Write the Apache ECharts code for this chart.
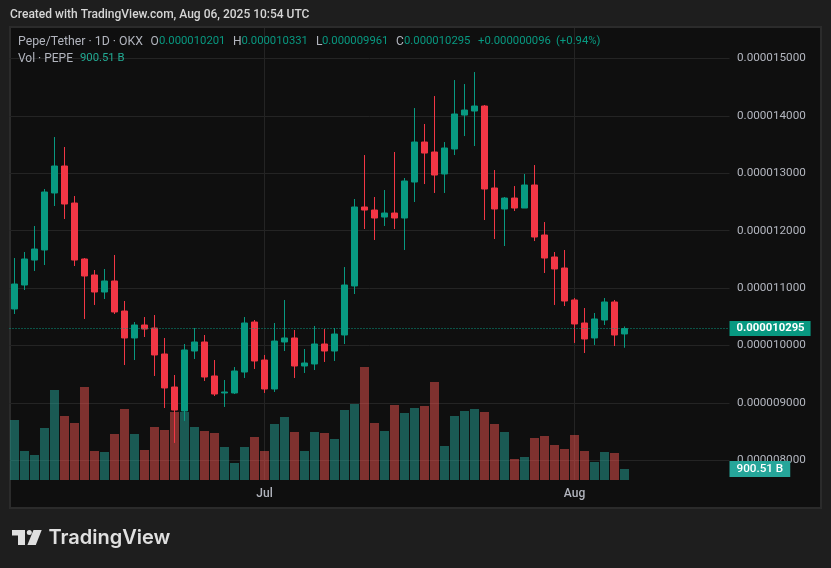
<!DOCTYPE html>
<html><head><meta charset="utf-8">
<style>html,body{margin:0;padding:0;background:#1e1e1e}#c{width:831px;height:568px}</style>
<script src="https://cdn.jsdelivr.net/npm/echarts@6/dist/echarts.min.js"></script></head>
<body><div id="c"></div>
<script>
// prices are in units of 0.000000001 USDT, volumes in billions of PEPE
const dates = ["2025-06-06","2025-06-07","2025-06-08","2025-06-09","2025-06-10","2025-06-11","2025-06-12","2025-06-13","2025-06-14","2025-06-15","2025-06-16","2025-06-17","2025-06-18","2025-06-19","2025-06-20","2025-06-21","2025-06-22","2025-06-23","2025-06-24","2025-06-25","2025-06-26","2025-06-27","2025-06-28","2025-06-29","2025-06-30","2025-07-01","2025-07-02","2025-07-03","2025-07-04","2025-07-05","2025-07-06","2025-07-07","2025-07-08","2025-07-09","2025-07-10","2025-07-11","2025-07-12","2025-07-13","2025-07-14","2025-07-15","2025-07-16","2025-07-17","2025-07-18","2025-07-19","2025-07-20","2025-07-21","2025-07-22","2025-07-23","2025-07-24","2025-07-25","2025-07-26","2025-07-27","2025-07-28","2025-07-29","2025-07-30","2025-07-31","2025-08-01","2025-08-02","2025-08-03","2025-08-04","2025-08-05","2025-08-06"];
const futureDates = ["2025-08-07","2025-08-08","2025-08-09","2025-08-10","2025-08-11","2025-08-12","2025-08-13","2025-08-14","2025-08-15","2025-08-16"];
const opens = [10636,11054,11489,11664,12657,13127,12482,11507,11228,10932,11124,10601,10131,10357,10305,9852,9277,8859,9904,10061,9469,9173,9173,9538,10409,9747,9242,10061,10131,9643,9678,10026,9904,10183,11037,12413,12360,12238,12308,12221,12848,13545,13371,12988,13423,14015,14085,14172,12744,12378,12569,12395,12796,11925,11542,11350,10793,10392,10131,10444,10758,10201];
const closes = [11071,11507,11681,12674,13127,12465,11489,11211,10932,11124,10584,10131,10357,10287,9835,9260,8876,9922,10061,9451,9155,9190,9556,10392,9730,9242,10078,10131,9643,9695,10026,9904,10200,11054,12413,12360,12221,12308,12221,12866,13545,13353,12970,13441,14033,14102,14172,12726,12378,12569,12395,12796,11890,11524,11333,10775,10375,10113,10462,10758,10183,10295];
const lows = [10549,10967,11298,11402,12430,12204,11385,10462,10706,10810,10549,9660,9747,10148,9469,8911,8302,8685,9765,9382,9120,8929,9155,9434,9591,9173,9190,9904,9434,9521,9573,9713,9730,10026,10897,12029,11838,12082,12029,11664,12500,12813,12657,12657,13318,13649,13475,12186,11855,11733,12343,12395,11820,11263,10706,10688,10044,9869,10009,10357,9991,9961];
const highs = [11524,11629,12082,12726,13632,13458,12604,11524,11315,11333,11577,10775,10409,10496,10531,10131,9486,10026,10305,10183,9747,9399,9625,10496,10444,9835,10392,10793,10270,9939,10340,10287,10305,11367,12552,13318,12587,12709,13371,12918,14137,13859,14346,13545,14625,14555,14764,14190,13057,12587,12778,12988,13144,12151,11629,11664,10827,10653,10566,10827,10793,10331];
const volumes = [4912,2374,2047,4257,7367,5239,4666,7613,2374,2292,3766,5812,3766,2456,4339,4093,5566,5566,4339,4011,3847,2701,1392,2701,3520,2374,4584,5157,3929,2374,3929,3847,3356,5730,6221,9250,4666,4011,6140,5485,5894,6058,8022,2783,5239,5648,5812,5566,4584,3929,1719,1883,3438,3602,2865,2538,3684,2374,1473,2292,2210,900.51];
const priceTicks = [8000,15000,1000];
const lastPrice = 10295, lastVolume = 900.51;

const GREEN='#089981', RED='#f23645', VG='#26a69a', VR='#ef5350';
const FONT='Roboto, sans-serif';
const allDates = dates.concat(futureDates);
const monthName = {'07':'Jul','08':'Aug'};
const isMonthStart = (i,v)=> v.endsWith('-01');
const fmtPrice = v => (v/1e9).toFixed(9);

const txt = (x,y,text,fill,extra={}) => ({type:'text',x,y,z:20,silent:true,
  style:Object.assign({text,fill,font:'12px '+FONT,textVerticalAlign:'middle'},extra)});
const num = (x,y,text,fill) => txt(x,y,text,fill,{font:'11.3px '+FONT});
const LEG='#b2b5be', TEAL='#089981';

const chart = echarts.init(document.getElementById('c'),null,{renderer:'canvas'});
chart.setOption({
  animation:false,
  backgroundColor:'#1e1e1e',
  grid:[
    {left:9.5,width:720,top:58.5,height:401.8},
    {left:9.5,width:720,top:28,height:452}
  ],
  xAxis:[
    {gridIndex:0,type:'category',data:allDates,show:false},
    {gridIndex:1,type:'category',data:allDates,
      axisLine:{show:false},axisTick:{show:false},
      axisLabel:{interval:isMonthStart,formatter:v=>monthName[v.slice(5,7)]||'',color:'#b2b5be',fontFamily:FONT,fontSize:12,fontWeight:500,margin:8},
      splitLine:{show:true,alignWithLabel:true,interval:isMonthStart,lineStyle:{color:'#242424',width:1}}}
  ],
  yAxis:[
    {gridIndex:0,type:'value',position:'right',min:priceTicks[0],max:priceTicks[1],interval:priceTicks[2],
      axisLine:{show:false},axisTick:{show:false},
      axisLabel:{formatter:fmtPrice,color:'#b2b5be',fontFamily:FONT,fontSize:11.7,margin:7.5},
      splitLine:{show:true,lineStyle:{color:'#242424',width:1}}},
    {gridIndex:1,type:'value',min:0,max:37001,show:false,splitLine:{show:false}}
  ],
  series:[
    {type:'bar',name:'Vol',xAxisIndex:1,yAxisIndex:1,z:2,barWidth:9,silent:true,
      data:volumes.map((v,i)=>({value:v,itemStyle:{color:closes[i]>=opens[i]?VG:VR,opacity:0.5}})),
      markLine:{silent:true,symbol:'none',precision:2,z:10,
        lineStyle:{color:'rgba(0,0,0,0)',width:1,type:'solid'},
        label:{show:true,position:'end',distance:0,formatter:()=>'900.51 B',backgroundColor:VG,color:'#fff',fontFamily:FONT,fontSize:11.7,fontWeight:500,padding:[2,7,2,7]},
        data:[{yAxis:lastVolume}]}},
    {type:'candlestick',name:'Pepe/Tether',xAxisIndex:0,yAxisIndex:0,z:3,barWidth:7,silent:true,
      data:opens.map((o,i)=>[o,closes[i],lows[i],highs[i]]),
      itemStyle:{color:GREEN,color0:RED,borderColor:GREEN,borderColor0:RED,borderWidth:1},
      markLine:{silent:true,symbol:'none',precision:0,z:10,
        lineStyle:{type:[1,2],color:GREEN,width:1},
        label:{position:'end',distance:0,formatter:()=>fmtPrice(lastPrice),backgroundColor:GREEN,color:'#fff',fontFamily:FONT,fontSize:11.3,fontWeight:'bold',padding:[2,6,2,7]},
        data:[{yAxis:lastPrice}]}}
  ],
  graphic:[
    {type:'rect',z:-10,silent:true,shape:{x:10,y:27,width:811,height:481},style:{fill:'#0f0f0f',stroke:'#2b2b2b',lineWidth:2}},
    txt(10,15,'Created with TradingView.com, Aug 06, 2025 10:54 UTC','#d6d6d6',{font:'500 12px '+FONT}),
    txt(18,41.5,'Pepe/Tether · 1D · OKX',LEG,{font:'12.3px '+FONT}),
    txt(150.5,41.5,'O',LEG),num(159,41.5,'0.000010201',TEAL),
    txt(233,41.5,'H',LEG),num(241.5,41.5,'0.000010331',TEAL),
    txt(316,41.5,'L',LEG),num(322,41.5,'0.000009961',TEAL),
    txt(396,41.5,'C',LEG),num(404,41.5,'0.000010295',TEAL),
    num(478,41.5,'+0.000000096',TEAL),num(556,41.5,'(+0.94%)',TEAL),
    txt(18,58.5,'Vol · PEPE',LEG),num(80,58.5,'900.51 B','#22ab94'),
    {type:'polygon',z:20,silent:true,shape:{points:[[12,530],[25,530],[25,545],[18,545],[18,535.5],[12,535.5]]},style:{fill:'#e0e0e0'}},
    {type:'circle',z:20,silent:true,shape:{cx:29.3,cy:532.4,r:2.5},style:{fill:'#e0e0e0'}},
    {type:'polygon',z:20,silent:true,shape:{points:[[33.5,530],[41.7,530],[35.8,545],[27.4,545]]},style:{fill:'#e0e0e0'}},
    txt(48.5,538,'TradingView','#e0e0e0',{font:'600 20px Inter, '+FONT})
  ]
});
</script></body></html>
